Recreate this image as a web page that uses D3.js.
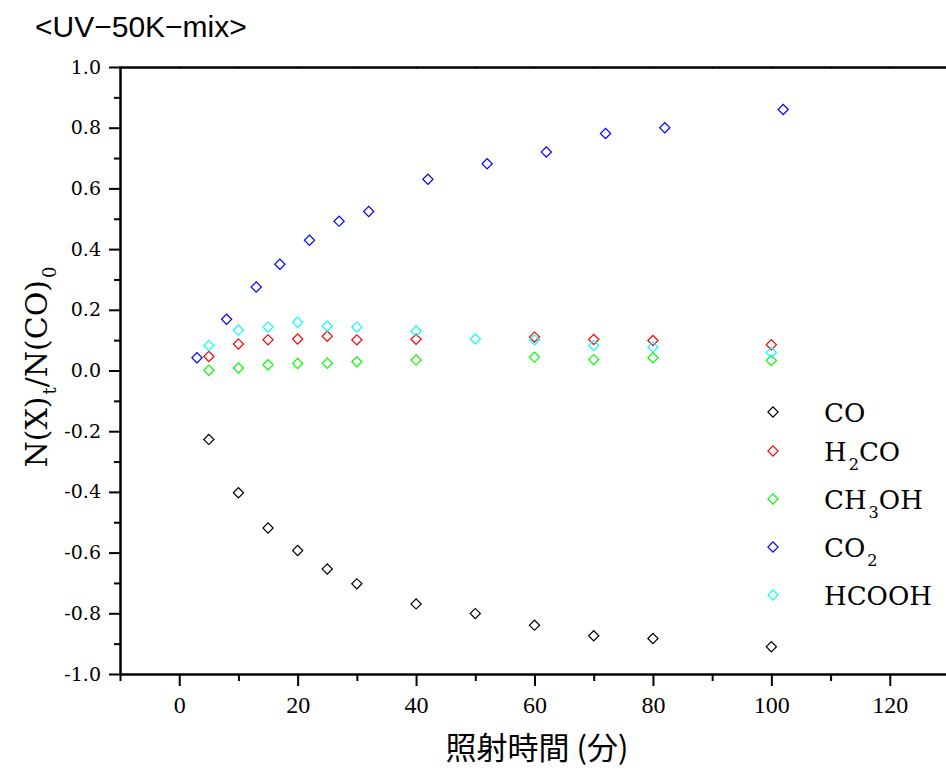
<!DOCTYPE html>
<html>
<head>
<meta charset="utf-8">
<script src="https://cdn.jsdelivr.net/npm/d3@7/dist/d3.min.js"></script>
<style>
  body { margin: 0; background: #fff; }
  svg { display: block; }
  .ytick text { font-family: "DejaVu Serif", serif; font-size: 19px; }
  .xtick text { font-family: "Liberation Serif", serif; font-size: 24px; }
</style>
</head>
<body>
<div id="chart"></div>
<script>
// irradiation time (minutes) for each species
var timeCO = [5, 10, 15, 20, 25, 30, 40, 50, 60, 70, 80, 100];
var valCO = [-0.227, -0.403, -0.519, -0.593, -0.654, -0.703, -0.769, -0.801, -0.839, -0.874, -0.883, -0.910];

var timeH2CO = [5, 10, 15, 20, 25, 30, 40, 60, 70, 80, 100];
var valH2CO = [0.046, 0.087, 0.101, 0.104, 0.113, 0.101, 0.103, 0.110, 0.102, 0.099, 0.085];

var timeCH3OH = [5, 10, 15, 20, 25, 30, 40, 60, 70, 80, 100];
var valCH3OH = [0.001, 0.008, 0.019, 0.023, 0.024, 0.029, 0.035, 0.044, 0.036, 0.042, 0.033];

var timeCO2 = [3, 8, 13, 17, 22, 27, 32, 42, 52, 62, 72, 82, 102];
var valCO2 = [0.042, 0.169, 0.275, 0.350, 0.429, 0.492, 0.524, 0.630, 0.681, 0.720, 0.781, 0.800, 0.860];

var timeHCOOH = [5, 10, 15, 20, 25, 30, 40, 50, 60, 70, 80, 100];
var valHCOOH = [0.082, 0.133, 0.143, 0.159, 0.146, 0.143, 0.130, 0.104, 0.101, 0.082, 0.077, 0.059];

var seriesNames = ["CO", "H2CO", "CH3OH", "CO2", "HCOOH"];
var seriesColors = ["#000000", "#ff0000", "#00ff00", "#0000ff", "#00ffff"];
var xTicks = [0, 20, 40, 60, 80, 100, 120];
var yTicks = [-1.0, -0.8, -0.6, -0.4, -0.2, 0.0, 0.2, 0.4, 0.6, 0.8, 1.0];

var series = [
  {name: seriesNames[0], color: seriesColors[0], t: timeCO, v: valCO},
  {name: seriesNames[1], color: seriesColors[1], t: timeH2CO, v: valH2CO},
  {name: seriesNames[2], color: seriesColors[2], t: timeCH3OH, v: valCH3OH},
  {name: seriesNames[3], color: seriesColors[3], t: timeCO2, v: valCO2},
  {name: seriesNames[4], color: seriesColors[4], t: timeHCOOH, v: valHCOOH}
];

var svgWidth = 946;
var svgHeight = 770;

var svg = d3.select("#chart")
    .append("svg")
    .attr("width", svgWidth)
    .attr("height", svgHeight);

svg.append("rect").attr("width", svgWidth).attr("height", svgHeight).attr("fill", "#fff");

// scales
var x = d3.scaleLinear().domain([-10, 130]).range([120, 949]);
var y = d3.scaleLinear().domain([-1, 1]).range([674, 67]);

// top frame line with tiny ticks
svg.append("g")
    .attr("transform", "translate(0,67)")
    .call(d3.axisTop(x).tickValues(d3.range(-10, 131, 10)).tickSize(-2).tickFormat(""))
    .call(g => g.select(".domain").attr("stroke-width", 2.5));

// y axis, minor then major
svg.append("g")
    .attr("transform", "translate(120,0)")
    .call(d3.axisLeft(y).tickValues(d3.range(-9, 10, 2).map(d => d / 10)).tickSize(6).tickFormat(""))
    .call(g => g.selectAll("line").attr("stroke-width", 2))
    .call(g => g.select(".domain").remove());

svg.append("g")
    .attr("class", "ytick")
    .attr("transform", "translate(120,0)")
    .call(d3.axisLeft(y).tickValues(yTicks).tickSize(11).tickSizeOuter(0).tickPadding(8))
    .call(g => g.selectAll("line").attr("stroke-width", 2))
    .call(g => g.select(".domain").attr("stroke-width", 2.5))
    .call(g => g.selectAll("text").text(d => d3.format(".1f")(d).replace("\u2212", "-")));

// x axis, minor then major
svg.append("g")
    .attr("transform", "translate(0,674)")
    .call(d3.axisBottom(x).tickValues(d3.range(-10, 131, 20)).tickSize(7).tickFormat(""))
    .call(g => g.selectAll("line").attr("stroke-width", 2))
    .call(g => g.select(".domain").remove());

svg.append("g")
    .attr("class", "xtick")
    .attr("transform", "translate(0,674)")
    .call(d3.axisBottom(x).tickValues(xTicks).tickSize(12).tickSizeOuter(0).tickPadding(10))
    .call(g => g.selectAll("line").attr("stroke-width", 2))
    .call(g => g.select(".domain").attr("stroke-width", 2.5));

// diamond markers
var diamond = d3.symbol().type(d3.symbolSquare).size(52);

series.forEach(function(s) {
    svg.append("g")
        .selectAll("path")
        .data(d3.zip(s.t, s.v))
        .enter()
        .append("path")
        .attr("d", diamond)
        .attr("transform", d => `translate(${x(d[0])},${y(d[1])}) rotate(45)`)
        .attr("fill", "none")
        .attr("stroke", s.color)
        .attr("stroke-width", 1.2);
});

// write chemical formula with subscripted digits
function formula(textSel, str, size) {
    var shift = 0;
    str.split(/(\d+)/).filter(p => p.length).forEach(function(p) {
        var isSub = /^\d+$/.test(p);
        var target = isSub ? size * 0.36 : 0;
        textSel.append("tspan")
            .attr("font-size", isSub ? size * 0.62 : size)
            .attr("dx", isSub ? 2 : 0)
            .attr("dy", target - shift)
            .text(p);
        shift = target;
    });
}

// legend
var legendY = 412;
series.forEach(function(s) {
    svg.append("path")
        .attr("d", diamond)
        .attr("transform", `translate(773,${legendY}) rotate(45)`)
        .attr("fill", "none")
        .attr("stroke", s.color)
        .attr("stroke-width", 1.2);
    var t = svg.append("text")
        .attr("x", 824)
        .attr("y", legendY + 10)
        .attr("font-family", "DejaVu Serif, serif");
    formula(t, s.name, 26);
    legendY += /\d/.test(s.name) ? 48 : 39;
});

// y axis title
var yTitle = svg.append("text")
    .attr("transform", "translate(47,367) rotate(-90)")
    .attr("text-anchor", "middle")
    .attr("font-family", "DejaVu Serif, serif")
    .attr("font-size", 30);
yTitle.append("tspan").text("N(X)");
yTitle.append("tspan").attr("font-size", 18).attr("dx", 2).attr("dy", 9).text("t");
yTitle.append("tspan").attr("dy", -9).text("/N(CO)");
yTitle.append("tspan").attr("font-size", 18).attr("dx", 2).attr("dy", 9).text("0");

// x axis title
svg.append("text")
    .attr("x", 537)
    .attr("y", 759)
    .attr("text-anchor", "middle")
    .attr("font-family", "Noto Sans CJK JP, sans-serif")
    .attr("font-size", 31)
    .text("照射時間 (分)");

// chart title
svg.append("text")
    .attr("x", 35)
    .attr("y", 37)
    .attr("font-family", "Liberation Sans, Arial, sans-serif")
    .attr("font-size", 30)
    .text("<UV\u221250K\u2212mix>");
</script>
</body>
</html>
